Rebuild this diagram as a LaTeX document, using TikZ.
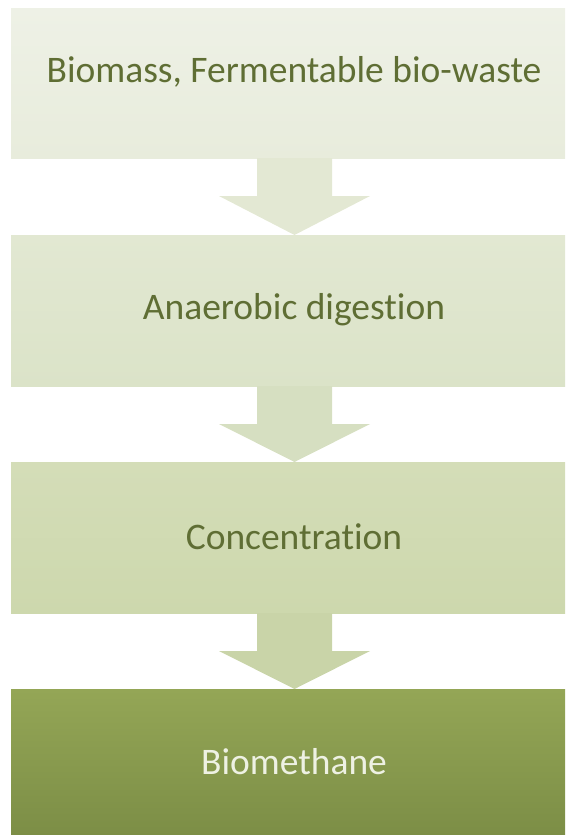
\documentclass[tikz,border=0pt]{standalone}
\usepackage{fontspec}
\setmainfont{Carlito}[Ligatures={NoCommon}]
\definecolor{txtdark}{HTML}{5F6E34}
\definecolor{txtlight}{HTML}{EEF1E3}
\definecolor{b1top}{HTML}{EEF1E6}\definecolor{b1bot}{HTML}{E8ECDC}
\definecolor{b2top}{HTML}{E2E8D2}\definecolor{b2bot}{HTML}{DBE3C8}
\definecolor{b3top}{HTML}{D4DDB8}\definecolor{b3bot}{HTML}{CDD8AD}
\definecolor{b4top}{HTML}{94A656}\definecolor{b4bot}{HTML}{7C8E46}
\definecolor{a1}{HTML}{E3E8D3}\definecolor{a2}{HTML}{D6DFC1}\definecolor{a3}{HTML}{C9D4A8}
\tikzset{
  stage/.style={rectangle, inner sep=0pt, minimum width=554pt, minimum height=150pt, anchor=north west},
  lbl/.style={font=\fontsize{37.5}{45}\selectfont, text=txtdark, inner sep=0pt},
}
\newcommand\flowarrow[3]{%
  \fill[#3] ([xshift=-37.5pt]#1.south) -- ([xshift=37.5pt]#1.south)
     -- ([xshift=37.5pt,yshift=-38pt]#1.south) -- ([xshift=75.5pt,yshift=-38pt]#1.south)
     -- (#2.north) -- ([xshift=-75.5pt,yshift=-38pt]#1.south)
     -- ([xshift=-37.5pt,yshift=-38pt]#1.south) -- cycle;}
\begin{document}
\begin{tikzpicture}[x=1pt,y=-1pt]
\useasboundingbox (0,0) rectangle (565,835);
\node[stage, minimum height=150pt, top color=b1top, bottom color=b1bot] (b1) at (11,8) {};
\node[stage, minimum height=151pt, top color=b2top, bottom color=b2bot] (b2) at (11,235) {};
\node[stage, minimum height=151pt, top color=b3top, bottom color=b3bot] (b3) at (11,462) {};
\node[stage, minimum height=146pt, top color=b4top, bottom color=b4bot] (b4) at (11,689) {};
\coordinate (p1) at (294.5,235);
\coordinate (p2) at (294.5,462);
\coordinate (p3) at (294.5,689);
\coordinate (s1) at (294.5,158);
\coordinate (s2) at (294.5,386);
\coordinate (s3) at (294.5,613);
\flowarrow{s1}{p1}{a1}
\flowarrow{s2}{p2}{a2}
\flowarrow{s3}{p3}{a3}
\node[lbl] (t1) at (294,72) {Biomass, Fermentable bio-waste};
\node[lbl] (t2) at (294,310) {Anaerobic digestion};
\node[lbl] (t3) at (294,537) {Concentration};
\node[lbl, text=txtlight] (t4) at (294,762) {Biomethane};
\end{tikzpicture}
\end{document}
